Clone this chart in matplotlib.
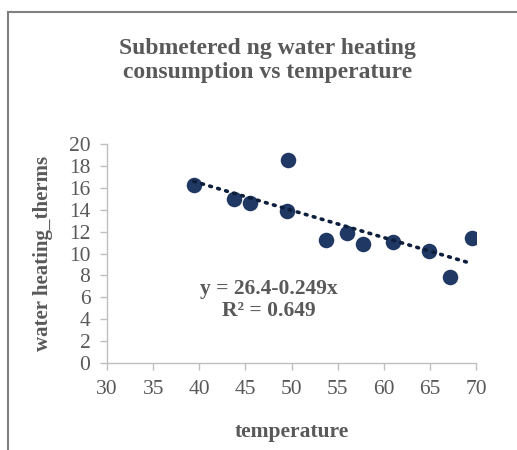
import numpy as np
import matplotlib
matplotlib.use("Agg")
import matplotlib.pyplot as plt
from matplotlib.lines import Line2D

plt.rcParams["font.family"] = ["Liberation Serif", "DejaVu Serif"]

# data
temperature = [39.4, 43.8, 45.5, 49.6, 49.5, 53.7, 56.0, 57.7, 61.0, 64.9, 67.2, 69.5]
therms = [16.3, 14.95, 14.6, 18.55, 13.9, 11.2, 11.9, 10.85, 11.1, 10.2, 7.85, 11.4]

# trendline from the chart label
intercept = 26.4
slope = -0.249
r2 = 0.649

xticks = list(range(30, 71, 5))
yticks = list(range(0, 21, 2))

grey = "#595959"
navy = "#203864"

fig = plt.figure(figsize=(5.17, 4.5), dpi=100)
ax = fig.add_axes([0.207, 0.193, 0.714, 0.487])

ax.scatter(temperature, therms, s=125, color=navy, zorder=3, linewidths=0)

x = np.array([min(temperature), max(temperature)])
ax.plot(x, intercept + slope * x, color="#0d1f3c", linestyle=(0, (0.5, 1.8)),
        linewidth=2.6, dash_capstyle="round", zorder=4)

ax.set_xlim(30, 70)
ax.set_ylim(0, 20)
ax.set_xticks(xticks)
ax.set_yticks(yticks)
ax.tick_params(axis="both", labelsize=15.5, labelcolor=grey, color="#bfbfbf",
               length=5, width=1, direction="out", pad=7)
for side in ["top", "right"]:
    ax.spines[side].set_visible(False)
for side in ["left", "bottom"]:
    ax.spines[side].set_color("#bfbfbf")
    ax.spines[side].set_linewidth(1)

ax.set_xlabel("temperature", fontsize=15.5, fontweight="bold", color=grey, labelpad=17)
ax.set_ylabel("water heating_therms", fontsize=15, fontweight="bold", color=grey, labelpad=11)

fig.text(0.517, 0.866, "Submetered ng water heating\nconsumption vs temperature",
         ha="center", va="center", fontsize=17, fontweight="bold", color=grey,
         linespacing=1.22)

ax.text(47.5, 5.75, f"y = {intercept}{slope}x\nR² = {r2}", ha="center", va="center",
        fontsize=15.5, fontweight="bold", color=grey, linespacing=1.15)

# chart area frame (only left and top visible)
fig.add_artist(Line2D([8 / 517, 8 / 517], [0, 1 - 12 / 450], color="#808080", linewidth=1.5))
fig.add_artist(Line2D([8 / 517, 1], [1 - 12 / 450, 1 - 12 / 450], color="#808080", linewidth=1.5))

fig.savefig("out.png", dpi=100)
